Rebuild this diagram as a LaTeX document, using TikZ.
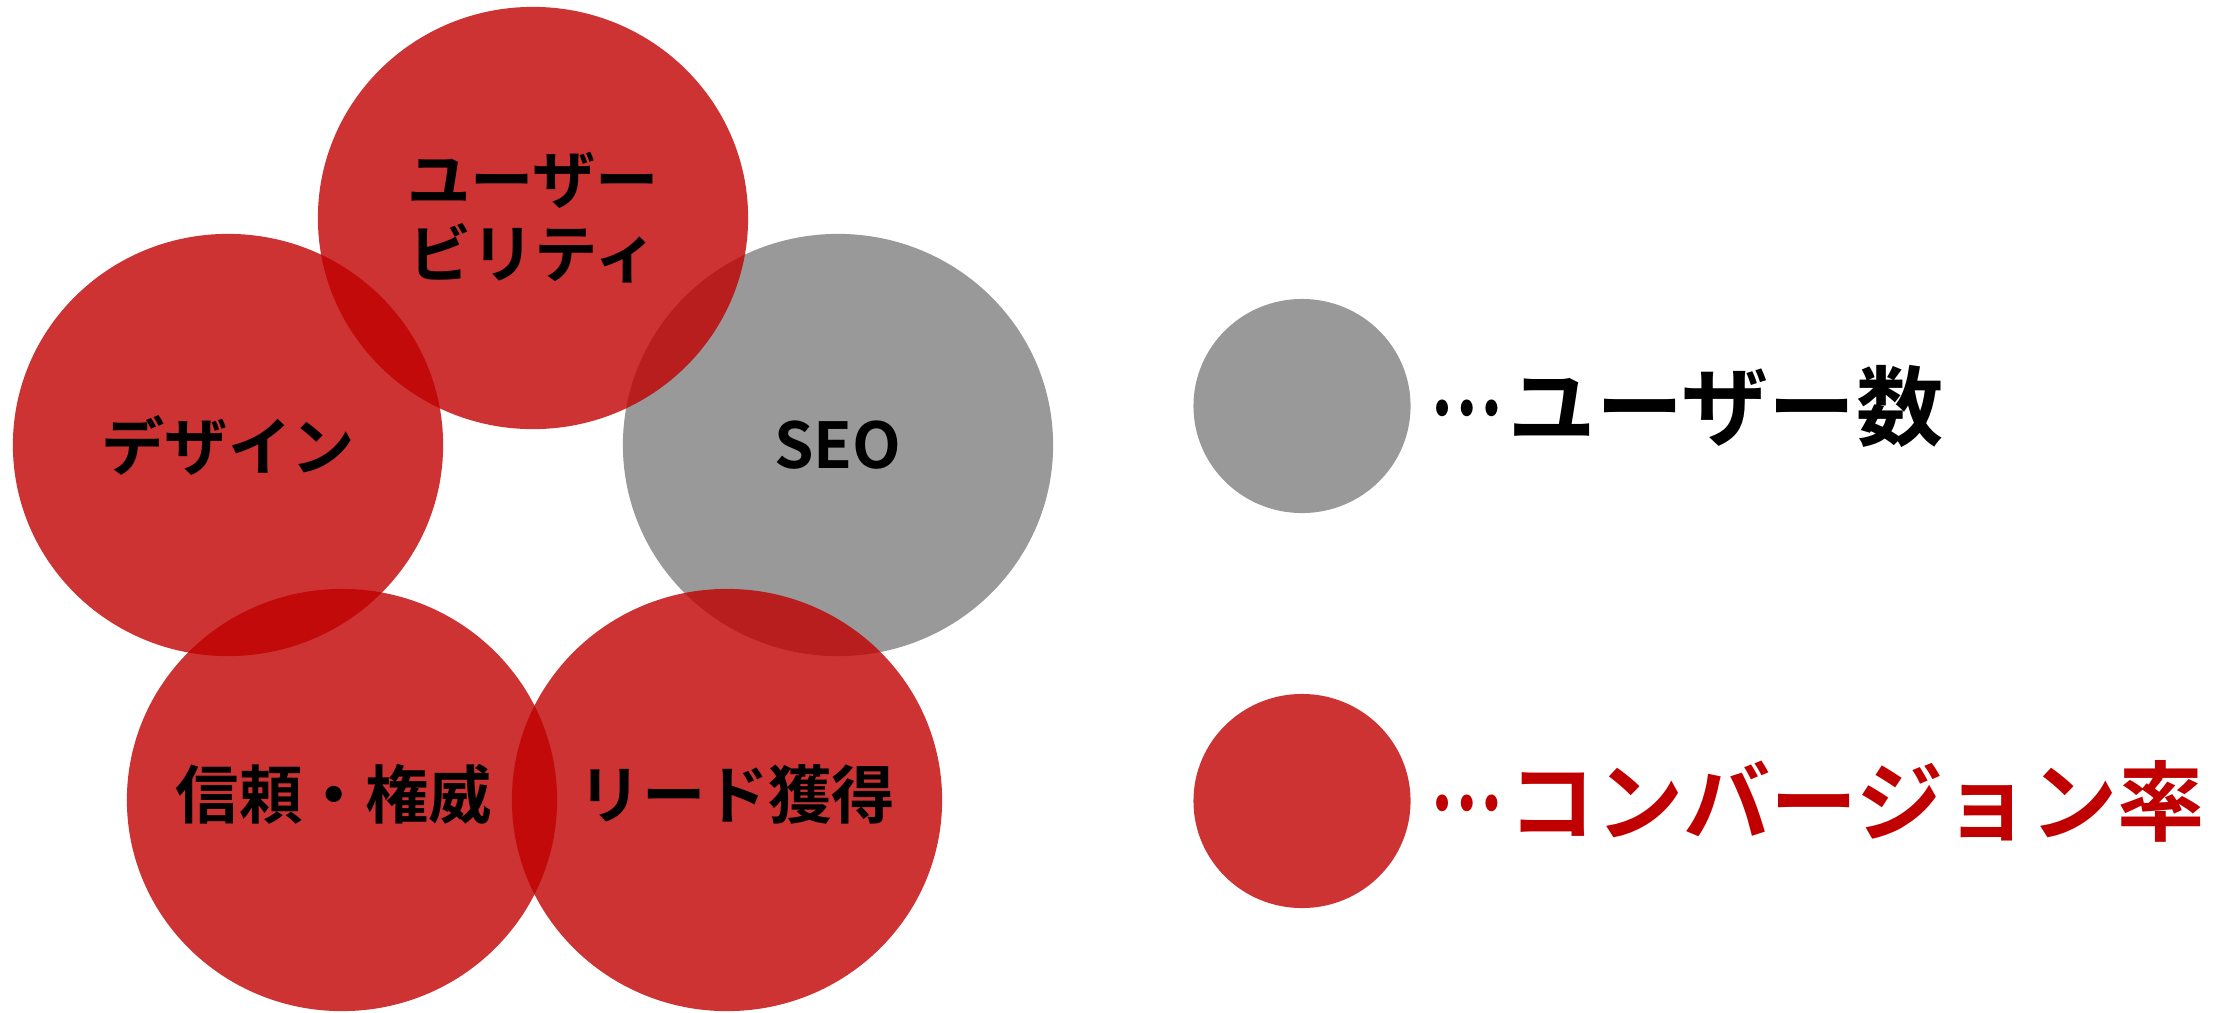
\documentclass[tikz,border=0pt]{standalone}
\usepackage{fontspec}
\usepackage{graphicx}
\usepackage{tikz}
\usetikzlibrary{shapes.geometric,positioning}
\newfontfamily\jpfont{Noto Sans CJK JP Bold}
\newcommand{\keydots}{\raisebox{0.27em}{\scalebox{0.75}[1]{…}}\kern0.08em}
\definecolor{cvred}{HTML}{C00000}
\definecolor{usergray}{HTML}{808080}

\begin{document}
\begin{tikzpicture}[x=0.01cm,y=-0.01cm,
	bubble/.style={ellipse,inner sep=0pt,minimum width=4.3cm,minimum height=4.22cm,fill opacity=0.8},
	red bubble/.style={bubble,fill=cvred},
	gray bubble/.style={bubble,fill=usergray},
	dot/.style={ellipse,inner sep=0pt,minimum width=2.17cm,minimum height=2.14cm,fill opacity=0.8},
	word/.style={font=\jpfont\fontsize{18pt}{21pt}\selectfont,align=center,inner sep=0pt},
	key/.style={font=\jpfont\fontsize{24.8pt}{28pt}\selectfont,inner sep=0pt}]
	\useasboundingbox (0,0) rectangle (2228,1012);
	% five factors
	\node[gray bubble] (seo) at (838,445) {};
	\node[red bubble] (usab) at (533,218) {};
	\node[red bubble] (design) at (228,445) {};
	\node[red bubble] (trust) at (342,800) {};
	\node[red bubble] (lead) at (727,800) {};
	\node[word] (usab_t) at (usab) {ユーザー\\ビリティ};
	\node[word] (design_t) at (design) {デザイン};
	\node[word] (seo_t) at (seo) {SEO};
	\node[word,xshift=-0.08cm,yshift=0.06cm] (trust_t) at (trust) {信頼・権威};
	\node[word,xshift=0.1cm,yshift=0.06cm] (lead_t) at (lead) {リード獲得};
	% legend
	\node[dot,fill=usergray] (q_users) at (1302,406) {};
	\node[dot,fill=cvred] (q_cv) at (1302,801) {};
	\node[key,right=0.18cm of q_users] (users_t) {\keydots ユーザー数};
	\node[key,right=0.18cm of q_cv,text=cvred] (cv_t) {\keydots コンバージョン率};
\end{tikzpicture}
\end{document}
